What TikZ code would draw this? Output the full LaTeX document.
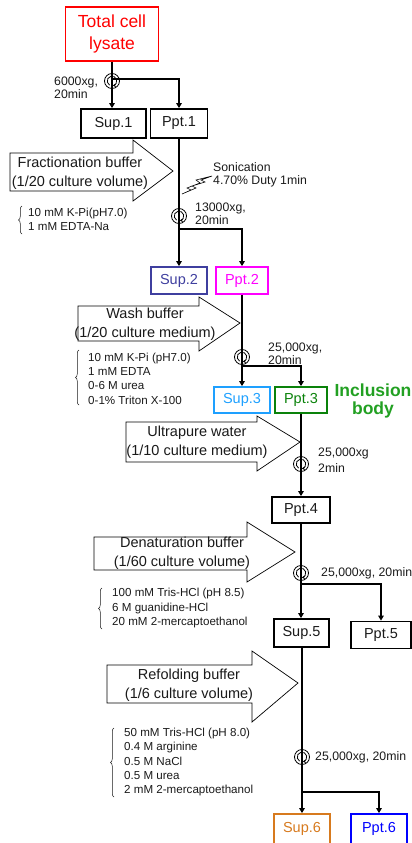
\documentclass[tikz,border=0pt]{standalone}
\usepackage{fontspec}
\setmainfont{Liberation Sans}
\usetikzlibrary{arrows.meta,decorations.pathreplacing,calc}
\definecolor{lysred}{HTML}{FF0000}
\definecolor{suptwo}{HTML}{3F3F9F}
\definecolor{ppttwo}{HTML}{FF00FF}
\definecolor{supthree}{HTML}{1EA0FF}
\definecolor{pptthree}{HTML}{0A820A}
\definecolor{incl}{HTML}{22A022}
\definecolor{supsix}{HTML}{D77A1E}
\definecolor{pptsix}{HTML}{0000FF}
\definecolor{txt}{HTML}{1A1A1A}
\begin{document}
\begin{tikzpicture}[x=1pt,y=-1pt,
  box/.style={draw, line width=1.8pt, inner sep=0pt, font=\fontsize{14.5}{16}\selectfont, text=txt},
  flow/.style={line width=1.6pt, -{Triangle[length=5pt,width=5.5pt]}},
  lnk/.style={line width=1.6pt},
  bigarrow/.style={draw, line width=0.7pt, fill=white},
  buftext/.style={align=center, font=\fontsize{14.5}{18.5}\selectfont, inner sep=0pt, text=txt},
  small/.style={align=left, font=\fontsize{12.3}{13.5}\selectfont, inner sep=0pt, anchor=west, text=txt},
  listtext/.style={align=left, font=\fontsize{11.6}{14.3}\selectfont, inner sep=0pt, anchor=west, text=txt},
  brc/.style={decorate, decoration={brace, amplitude=3.5pt}, line width=0.5pt, draw=txt},
  centri/.pic={
    \draw[line width=0.8pt] (0,0) circle (7.5);
    \draw[line width=0.8pt, -{Stealth[length=3pt,width=3.5pt]}] (120:4.8) arc[start angle=120, end angle=440, radius=4.8];
  }
]
\useasboundingbox (0,0) rectangle (412,843);

% ---- boxes ----
\node[box, draw=lysred, text=lysred, minimum width=93, minimum height=54, align=center,
      font=\fontsize{17.5}{22}\selectfont] (lys) at (112,34) {Total cell\\lysate};
\node[box, minimum width=65, minimum height=29] (sup1) at (113.5,123.5) {Sup.1};
\node[box, minimum width=57, minimum height=29] (ppt1) at (179,123.5) {Ppt.1};
\node[box, draw=suptwo, text=suptwo, minimum width=56, minimum height=27] (sup2) at (179,280.5) {Sup.2};
\node[box, draw=ppttwo, text=ppttwo, minimum width=52, minimum height=27] (ppt2) at (242,280.5) {Ppt.2};
\node[box, draw=supthree, text=supthree, minimum width=56, minimum height=26] (sup3) at (242,400) {Sup.3};
\node[box, draw=pptthree, text=pptthree, minimum width=52, minimum height=26] (ppt3) at (301,400) {Ppt.3};
\node[box, minimum width=58, minimum height=26] (ppt4) at (301,510) {Ppt.4};
\node[box, minimum width=55, minimum height=28] (sup5) at (301.5,633) {Sup.5};
\node[box, minimum width=60, minimum height=27] (ppt5) at (381,635) {Ppt.5};
\node[box, draw=supsix, text=supsix, minimum width=56, minimum height=30] (sup6) at (302,829) {Sup.6};
\node[box, draw=pptsix, text=pptsix, minimum width=56, minimum height=30] (ppt6) at (379,829) {Ppt.6};

\node[align=center, inner sep=0pt, text=incl, font=\fontsize{17.5}{18}\selectfont\bfseries] (incbody) at (373,401) {Inclusion\\body};

% ---- junction coordinates ----
\coordinate (j1) at (112,79);
\coordinate (j2) at (179,229);
\coordinate (j3) at (242,366);
\coordinate (j5) at (301,584);
\coordinate (j6) at (302,792);

% ---- connectors ----
\draw[flow] (lys.south -| j1) -- (j1 |- sup1.north);
\draw[flow] (j1) -| (ppt1.north);
\draw[flow] (ppt1.south) -- (sup2.north);
\draw[flow] (j2) -| (ppt2.north);
\draw[flow] (ppt2.south) -- (sup3.north);
\draw[flow] (j3) -| (ppt3.north);
\draw[flow] (ppt3.south) -- (ppt4.north);
\draw[flow] (ppt4.south) -- (ppt4.south |- sup5.north);
\draw[flow] (j5) -| (ppt5.north);
\draw[lnk] (sup5.south -| j6) -- (j6);
\draw[flow] (j6) -- (sup6.north);
\draw[flow] (j6) -| (ppt6.north);

% ---- centrifuge symbols ----
\pic at (112,81) {centri};
\pic at (179,216) {centri};
\pic at (242,357) {centri};
\pic at (301,464) {centri};
\pic at (301,573) {centri};
\pic at (302,757) {centri};

% ---- centrifuge labels ----
\node[small] (c1) at (54,88) {6000xg,\\20min};
\node[small] (c2) at (195,214) {13000xg,\\20min};
\node[small] (c3) at (268,354) {25,000xg,\\20min};
\node[small, font=\fontsize{12.3}{16}\selectfont] (c4) at (318,460) {25,000xg\\2min};
\node[small] (c5) at (321,573) {25,000xg, 20min};
\node[small] (c6) at (315,757) {25,000xg, 20min};

% ---- sonication ----
\draw[line width=0.6pt] (212,176) -- (196,180) -- (200,183) -- (187,188) -- (191,190) -- (182,194)
   -- (196,188) -- (192,186) -- (205,182) -- (201,180) -- cycle;
\node[small] (son) at (213,175) {Sonication\\4.70\% Duty 1min};

% ---- big buffer arrows ----
\draw[bigarrow] (10,153) -- (133,153) -- (133,140) -- (173,171) -- (133,201) -- (133,191) -- (10,191) -- cycle;
\node[buftext] (frac) at (80,173) {Fractionation buffer\\(1/20 culture volume)};

\draw[bigarrow] (78,306) -- (199,306) -- (199,297) -- (240,323) -- (199,351) -- (199,341) -- (78,341) -- cycle;
\node[buftext] (wash) at (145,324) {Wash buffer\\(1/20 culture medium)};

\draw[bigarrow] (126,422) -- (257,422) -- (257,416) -- (300,442) -- (257,471) -- (257,462) -- (126,462) -- cycle;
\node[buftext] (water) at (197,442) {Ultrapure water\\(1/10 culture medium)};

\draw[bigarrow] (94,537) -- (247,537) -- (247,522) -- (295,552) -- (247,582) -- (247,570) -- (94,570) -- cycle;
\node[buftext] (denat) at (182,553) {Denaturation buffer\\(1/60 culture volume)};

\draw[bigarrow] (107,665) -- (252,665) -- (252,651) -- (298,683) -- (252,722) -- (252,703) -- (107,703) -- cycle;
\node[buftext] (refold) at (189,685) {Refolding buffer\\(1/6 culture volume)};

% ---- composition lists ----
\draw[brc] (22,234) -- (22,206);
\node[listtext] (l1) at (28,219.5) {10 mM K-Pi(pH7.0)\\1 mM EDTA-Na};

\draw[brc] (79,405) -- (79,350);
\node[listtext] (l2) at (88,378.5) {10 mM K-Pi (pH7.0)\\1 mM EDTA\\0-6 M urea\\0-1\% Triton X-100};

\draw[brc] (102,629) -- (102,588);
\node[listtext] (l3) at (112,608) {100 mM Tris-HCl (pH 8.5)\\6 M guanidine-HCl\\20 mM 2-mercaptoethanol};

\draw[brc] (114,797) -- (114,728);
\node[listtext] (l4) at (124,762) {50 mM Tris-HCl (pH 8.0)\\0.4 M arginine\\0.5 M NaCl\\0.5 M urea\\2 mM 2-mercaptoethanol};
\end{tikzpicture}
\end{document}
